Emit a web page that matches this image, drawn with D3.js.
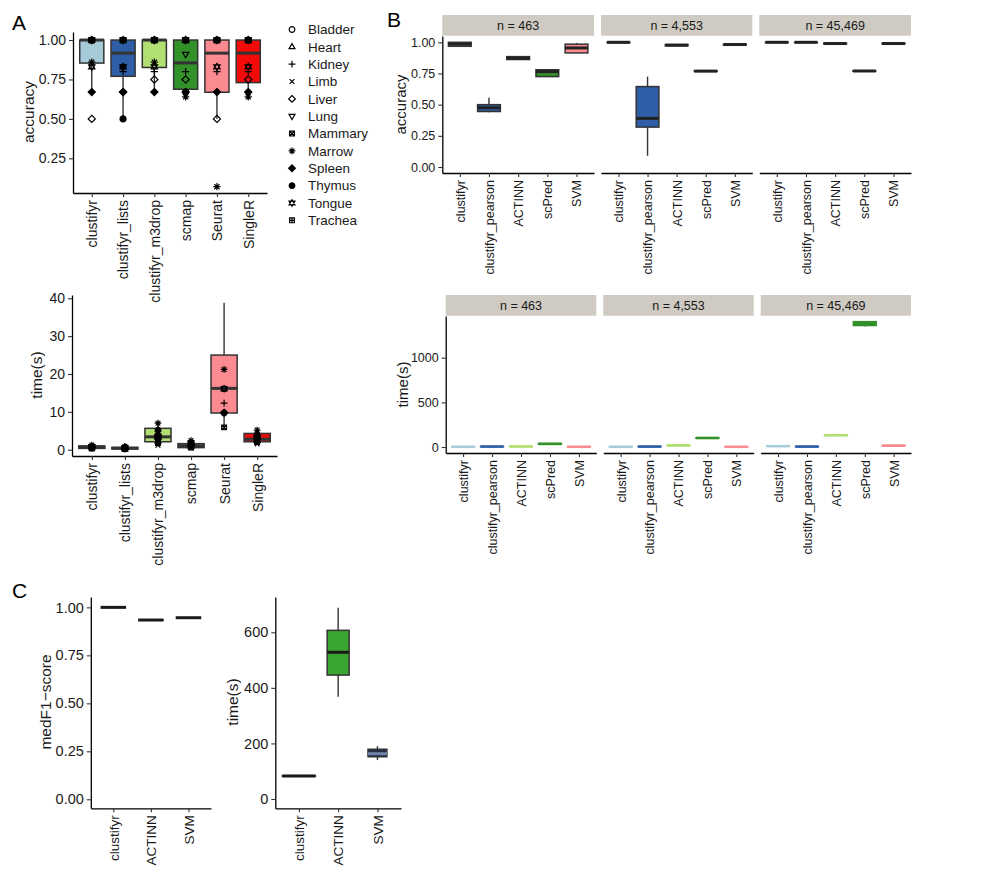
<!DOCTYPE html>
<html><head><meta charset="utf-8">
<script src="https://cdn.jsdelivr.net/npm/d3@7"></script>
<style>
body{margin:0;background:#fff;}
svg{font-family:"Liberation Sans",Arial,Helvetica,sans-serif;}
</style></head>
<body>
<script>
// ---------------- DATA ----------------
const tissues = ["Bladder","Heart","Kidney","Limb","Liver","Lung","Mammary","Marrow","Spleen","Thymus","Tongue","Trachea"];
const methodsA = ["clustifyr","clustifyr_lists","clustifyr_m3drop","scmap","Seurat","SingleR"];
const colorsA = ["#A6CBD8","#2E5EA6","#B2DF72","#33912A","#FC8A91","#F50A0A"];

// accuracy per tissue (order = tissues), one row per method
const accPoints = [
  [1,1,1,1,0.5,1,1,0.86,0.67,1,0.83,1],
  [1,1,0.8,1,0.67,1,1,0.83,0.67,0.5,0.83,1],
  [1,1,0.8,1,0.75,1,1,0.86,0.67,1,0.83,1],
  [1,1,0.8,1,0.75,0.91,1,0.64,0.67,0.67,1,1],
  [1,1,0.8,1,0.5,1,1,0.07,0.67,1,0.83,1],
  [1,1,0.8,1,0.75,1,1,0.64,0.67,1,0.83,1]
];
// box stats [lower whisker, q1, median, q3, upper whisker]
const accBoxes = [
  [0.67,0.854,1,1,1],
  [0.5,0.77,0.917,1,1],
  [0.67,0.826,1,1,1],
  [0.64,0.688,0.855,1,1],
  [0.5,0.669,0.917,1,1],
  [0.64,0.73,0.917,1,1]
];
const timePoints = [
  [0.8,0.5,0.6,0.4,0.7,0.9,0.3,1.2,0.6,0.5,0.8,0.7],
  [0.3,0.2,0.5,0.1,0.4,0.6,0.3,0.9,0.4,0.2,0.5,0.3],
  [3.5,2.2,4.8,1.2,2.8,3.0,1.8,7.0,3.9,5.2,3.6,2.5],
  [1.0,0.8,1.5,0.5,1.1,1.4,0.6,2.4,1.2,0.9,1.7,1.0],
  [16.1,16.0,12.3,null,null,16.2,5.9,21.2,9.8,9.7,null,null],
  [3.0,2.5,3.8,1.5,2.8,3.2,2.0,5.2,3.5,4.0,2.6,3.3]
];
const timeBoxes = [
  [0.2,0.35,0.7,1.0,1.3],
  [0.05,0.2,0.4,0.6,1.0],
  [1.0,2.1,3.4,5.65,7.4],
  [0.4,0.55,1.0,1.6,2.7],
  [5.9,9.7,16.2,25,38.8],
  [1.3,2.1,2.8,4.3,5.4]
];

const methodsB = ["clustifyr","clustifyr_pearson","ACTINN","scPred","SVM"];
const colorsB = ["#A6CBD8","#2E5EA6","#B2DF72","#33912A","#FC8A91"];
const facetsB = ["n = 463","n = 4,553","n = 45,469"];
const accB463 = [[0.965,0.968,0.985,1.0,1.0],[0.44,0.445,0.475,0.5,0.555],[0.86,0.862,0.872,0.885,0.885],[0.725,0.725,0.765,0.78,0.78],[0.915,0.915,0.955,0.985,0.995]];
const accB4553 = [[0.997,0.997,1.0,1.0,1.0],[0.09,0.32,0.39,0.645,0.725],[0.972,0.972,0.977,0.982,0.982],[0.767,0.767,0.769,0.772,0.772],[0.978,0.978,0.982,0.985,0.985]];
const accB45469 = [[0.998,0.998,1.0,1.0,1.0],[0.998,0.998,1.0,1.0,1.0],[0.987,0.987,0.99,0.993,0.993],[0.768,0.768,0.77,0.772,0.772],[0.987,0.987,0.99,0.993,0.993]];
const timeB463 = [[1,1,2,3,3],[3,4,5,6,7],[4,5,6,7,8],[30,32,35,38,40],[1,1,2,3,3]];
const timeB4553 = [[1,1,2,3,3],[4,4,5,6,6],[15,16,18,20,21],[98,99,101,103,104],[1,1,2,3,3]];
const timeB45469 = [[8,9,10,11,12],[4,4,5,6,6],[128,130,132,134,136],[1350,1362,1385,1402,1410],[12,13,15,17,18]];

const methodsC = ["clustifyr","ACTINN","SVM"];
const f1C = [[1,1,1,1,1],[0.934,0.934,0.934,0.934,0.934],[0.946,0.946,0.946,0.946,0.946]];
const timeC = [[82,82,83,84,84],[368,446,528,607,688],[140,152,163,179,190]];
const timeCWidth = [0.84,0.56,0.48];

const accTicks = [0.25,0.5,0.75,1.0];
const accTicksFull = [0,0.25,0.5,0.75,1.0];
const timeTicksA = [0,10,20,30,40];
const timeTicksB = [0,500,1000];
const timeTicksC = [0,200,400,600];

// ---------------- DRAW ----------------
const svg = d3.select("body").append("svg").attr("width",1000).attr("height",879);
const INK = "#1a1a1a";
const FONT = "Liberation Sans, Arial, sans-serif";

function shapePath(k, r){
  const s = r*0.85, d = r*1.2;
  const circ = `M${r},0A${r},${r} 0 1 1 ${-r},0A${r},${r} 0 1 1 ${r},0Z`;
  const plus = `M${-d},0H${d}M0,${-d}V${d}`;
  const cross = `M${-s},${-s}L${s},${s}M${-s},${s}L${s},${-s}`;
  const triU = `M0,${-r*1.15}L${r*1.05},${r*0.65}L${-r*1.05},${r*0.65}Z`;
  const triD = `M0,${r*1.15}L${r*1.05},${-r*0.65}L${-r*1.05},${-r*0.65}Z`;
  const dia = `M0,${-d}L${d},0L0,${d}L${-d},0Z`;
  const sq = `M${-s},${-s}H${s}V${s}H${-s}Z`;
  const sqc = `M${-s},${-s}L${s},${s}M${-s},${s}L${s},${-s}`;
  const sqp = `M${-s},0H${s}M0,${-s}V${s}`;
  switch(k){
    case 1: return circ;
    case 2: return triU;
    case 3: return plus;
    case 4: return cross;
    case 5: return dia;
    case 6: return triD;
    case 7: return sq+sqc;
    case 8: return plus+cross;
    case 9: return dia+`M${-d},0H${d}M0,${-d}V${d}`;
    case 10: return circ+`M${-r},0H${r}M0,${-r}V${r}`;
    case 11: return triU+triD;
    case 12: return sq+sqp;
  }
}
// shapes that read as solid at this small size
const solidShapes = new Set([9,10]);

function yAxis(g, y, ticks, fmt, x0, fs){
  const ax = g.append("g").attr("transform",`translate(${x0},0)`)
    .call(d3.axisLeft(y).tickValues(ticks).tickFormat(fmt).tickSize(4).tickSizeOuter(0).tickPadding(3));
  ax.select(".domain").attr("stroke","#000").attr("stroke-width",1.3);
  ax.selectAll(".tick line").attr("stroke","#333").attr("stroke-width",1.1);
  ax.selectAll(".tick text").attr("fill",INK).style("font-size",fs+"px").style("font-family",FONT);
}
function xAxis(g, x, y0, fs){
  const ax = g.append("g").attr("transform",`translate(0,${y0})`)
    .call(d3.axisBottom(x).tickSize(4).tickSizeOuter(0));
  ax.select(".domain").attr("stroke","#000").attr("stroke-width",1.3);
  ax.selectAll(".tick line").attr("stroke","#333").attr("stroke-width",1.1);
  ax.selectAll(".tick text").attr("fill",INK).style("font-size",fs+"px")
    .style("font-family",FONT)
    .attr("transform","rotate(-90)").attr("x",-7).attr("y",0).attr("dy","0.35em")
    .style("text-anchor","end");
}
function yTitle(text, x, yc, fs){
  svg.append("text").attr("transform",`translate(${x},${yc}) rotate(-90)`)
    .attr("text-anchor","middle").attr("dy","0.35em").attr("fill",INK)
    .style("font-size",fs+"px").text(text);
}
function box(g, xc, w, st, y, o){
  const [lo,q1,med,q3,hi] = st;
  const wc = o.whisker || "#333";
  g.append("line").attr("x1",xc).attr("x2",xc).attr("y1",y(hi)).attr("y2",y(q3)).attr("stroke",wc).attr("stroke-width",1.4);
  g.append("line").attr("x1",xc).attr("x2",xc).attr("y1",y(q1)).attr("y2",y(lo)).attr("stroke",wc).attr("stroke-width",1.4);
  g.append("rect").attr("x",xc-w/2).attr("width",w).attr("y",y(q3)).attr("height",Math.max(0,y(q1)-y(q3)))
    .attr("fill",o.fill).attr("stroke",o.stroke).attr("stroke-width",o.sw||1.5);
  g.append("line").attr("x1",xc-w/2).attr("x2",xc+w/2).attr("y1",y(med)).attr("y2",y(med))
    .attr("stroke",o.median||o.stroke).attr("stroke-width",o.mw||3);
}
function points(g, xc, vals, y, r){
  vals.forEach((v,i)=>{
    if(v===null) return;
    g.append("path").attr("transform",`translate(${xc},${y(v)})`).attr("d",shapePath(i+1,r))
      .attr("fill",solidShapes.has(i+1)?"#000":"none").attr("stroke","#000").attr("stroke-width",1.2);
  });
}
function label(t,x,y){
  svg.append("text").attr("x",x).attr("y",y).attr("fill","#000").style("font-size","21px").text(t);
}

// ---- Panel A top ----
{
  const g = svg.append("g");
  const x = d3.scalePoint().domain(methodsA).range([73,267]).padding(0.6);
  const y = d3.scaleLinear().domain([0.030,1.051]).range([193,32]);
  methodsA.forEach((m,i)=>box(g,x(m),0.77*x.step(),accBoxes[i],y,{fill:colorsA[i],stroke:"#333"}));
  methodsA.forEach((m,i)=>points(g,x(m),accPoints[i],y,3));
  yAxis(g,y,accTicks,d3.format(".2f"),73,14);
  xAxis(g,x,193,14);
  yTitle("accuracy",29,112,15.5);
}
// ---- Legend ----
{
  const g = svg.append("g");
  tissues.forEach((t,i)=>{
    const yy = 29.5 + i*17.35;
    g.append("path").attr("transform",`translate(292,${yy})`).attr("d",shapePath(i+1,2.8))
      .attr("fill",solidShapes.has(i+1)?"#000":"none").attr("stroke","#000").attr("stroke-width",1.2);
    g.append("text").attr("x",308).attr("y",yy).attr("dy","0.35em").attr("fill",INK).style("font-size","13.5px").text(t);
  });
}
// ---- Panel A bottom ----
{
  const g = svg.append("g");
  const x = d3.scalePoint().domain(methodsA).range([72,277]).padding(0.6);
  const y = d3.scaleLinear().domain([-1.66,40.87]).range([456,295]);
  methodsA.forEach((m,i)=>box(g,x(m),0.79*x.step(),timeBoxes[i],y,{fill:colorsA[i],stroke:"#333"}));
  methodsA.forEach((m,i)=>points(g,x(m),timePoints[i],y,2.8));
  yAxis(g,y,timeTicksA,d3.format("d"),72,14);
  xAxis(g,x,456,14);
  yTitle("time(s)",37,375,15.5);
}
// ---- Panel B ----
function facetRow(data, xs, top, bottom, yDom, ticks, fmt, title, titleX, style){
  const y = d3.scaleLinear().domain(yDom).range([bottom, top+21]);
  data.forEach((d,f)=>{
    const [a,b] = xs[f];
    const g = svg.append("g");
    g.append("rect").attr("x",a).attr("y",top).attr("width",b-a).attr("height",20.7).attr("fill","#CFCBC2");
    g.append("text").attr("x",(a+b)/2).attr("y",top+10.5).attr("dy","0.35em").attr("text-anchor","middle")
      .attr("fill",INK).style("font-size","12.5px").text(facetsB[f]);
    const x = d3.scalePoint().domain(methodsB).range([a,b]).padding(0.6);
    methodsB.forEach((m,i)=>box(g,x(m),0.78*x.step(),d[i],y,style(i)));
    if(f===0) yAxis(g,y,ticks,fmt,a,12.5);
    xAxis(g,x,bottom,12.5);
  });
  yTitle(title,titleX,(top+21+bottom)/2,15);
}
facetRow([accB463,accB4553,accB45469],[[442.3,594],[601,752.3],[759.3,911]],15,173,[-0.048,1.0505],accTicksFull,d3.format(".2f"),"accuracy",401,
  i=>({fill:colorsB[i],stroke:"#333",median:"#222"}));
facetRow([timeB463,timeB4553,timeB45469],[[445.7,596.3],[603.3,753.7],[760.7,911]],295,453,[-67,1467],timeTicksB,d3.format("d"),"time(s)",403,
  i=>({fill:colorsB[i],stroke:colorsB[i],median:colorsB[i],whisker:colorsB[i],sw:1.8,mw:2.5}));

// ---- Panel C ----
{
  const g = svg.append("g");
  const x = d3.scalePoint().domain(methodsC).range([90.8,211]).padding(0.6);
  const y = d3.scaleLinear().domain([-0.047,1.054]).range([808.3,597]);
  methodsC.forEach((m,i)=>box(g,x(m),0.68*x.step(),f1C[i],y,{fill:"#333",stroke:"#222",median:"#1a1a1a"}));
  yAxis(g,y,accTicksFull,d3.format(".2f"),90.8,14.5);
  xAxis(g,x,808.3,13.5);
  yTitle("medF1\u2212score",46,702,15.5);
}
{
  const g = svg.append("g");
  const x = d3.scalePoint().domain(methodsC).range([275.3,401]).padding(0.6);
  const y = d3.scaleLinear().domain([-33.5,727]).range([808.3,597]);
  const fills = ["#333","#3AA530","#283049"];
  const meds = ["#1a1a1a","#1a1a1a","#6F84A8"];
  methodsC.forEach((m,i)=>box(g,x(m),timeCWidth[i]*x.step(),timeC[i],y,{fill:fills[i],stroke:"#333",median:meds[i]}));
  yAxis(g,y,timeTicksC,d3.format("d"),275.3,14.5);
  xAxis(g,x,808.3,13.5);
  yTitle("time(s)",233,702,15.5);
}

label("A",12,30);
label("B",387,27);
label("C",12,598);
</script>
</body></html>
